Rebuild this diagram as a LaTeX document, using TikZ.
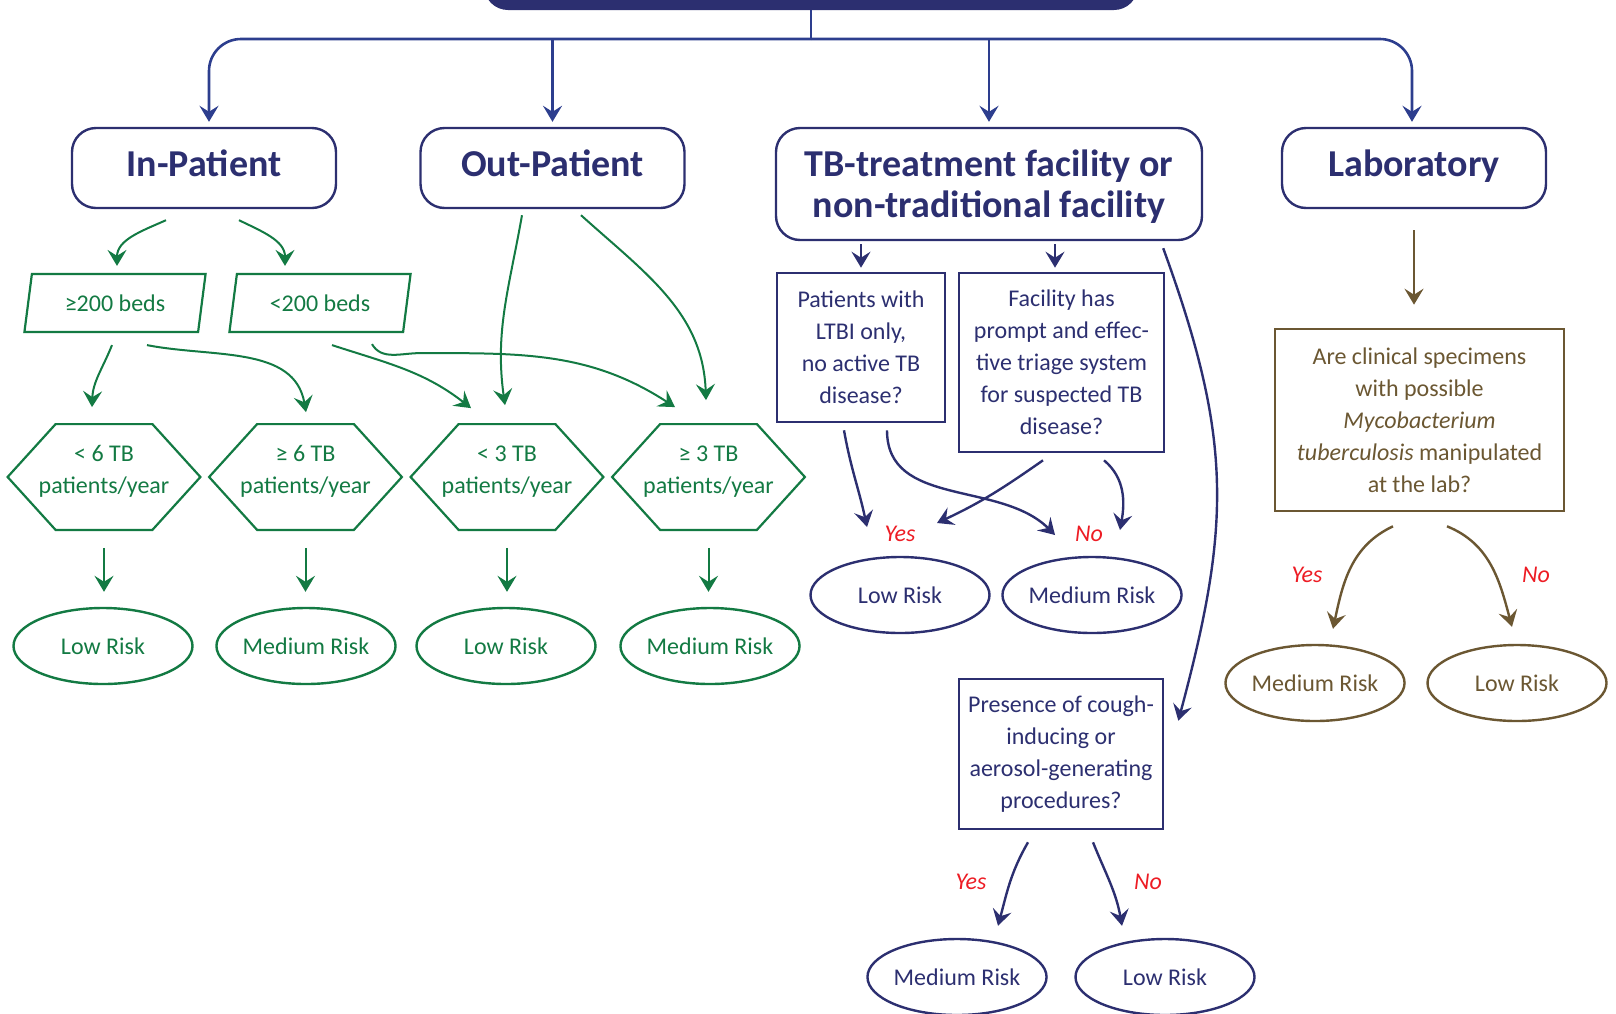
\documentclass[tikz,border=0pt]{standalone}
\usepackage{fontspec}
\setmainfont{Carlito}
\usetikzlibrary{arrows.meta,calc,shapes.geometric}
\definecolor{navy}{HTML}{2C2F70}
\definecolor{topblue}{HTML}{2D3E8E}
\definecolor{tbgreen}{HTML}{137A43}
\definecolor{labbrown}{HTML}{6B5732}
\definecolor{yesno}{HTML}{ED1C24}
\tikzset{
>={Stealth[length=8pt,width=9.5pt,inset=3pt]}, % barbed arrow heads
body/.style={font=\fontsize{12}{16}\selectfont, align=center, inner sep=0pt},
head/.style={draw=navy, text=navy, line width=1.2pt, rounded corners=12pt, font=\bfseries\fontsize{19}{20.5}\selectfont, align=center, inner sep=0pt, minimum width=132pt, minimum height=40pt}, % setting boxes
head1/.style={head, text height=13pt, text depth=4.8pt}, % one line only
beds/.style={body, draw, color=tbgreen, line width=1.1pt, trapezium, trapezium left angle=75, trapezium right angle=105, trapezium stretches=true, minimum width=91pt, minimum height=29pt},
hex/.style={body, text=tbgreen, text depth=7.5pt, minimum width=96pt, minimum height=52.5pt}, % outline drawn below
hexline/.style={draw=tbgreen, line width=1.1pt},
risk/.style={body, draw, ellipse, line width=1.2pt, minimum width=89.5pt, minimum height=38pt}, % end results
grisk/.style={risk, color=tbgreen},
nrisk/.style={risk, color=navy},
brisk/.style={risk, color=labbrown},
quest/.style={body, draw, line width=1.3pt}, % question boxes
reply/.style={text=yesno, font=\itshape\fontsize{12}{14}\selectfont, inner sep=0pt},
topline/.style={draw=topblue, line width=1.3pt},
gline/.style={->, draw=tbgreen, line width=1pt},
nline/.style={->, draw=navy, line width=1.2pt},
bline/.style={->, draw=labbrown, line width=1.2pt},
}
\begin{document}
\begin{tikzpicture}[x=0.5pt,y=-0.5pt]
\useasboundingbox (0,0) rectangle (1616,1013);

% settings
\node[fill=navy, rounded corners=12pt, minimum width=327pt, minimum height=40pt] (top) at (811,-30) {};
\node[head1] (inpat) at (204,168) {In-Patient};
\node[head1] (outpat) at (552.5,168) {Out-Patient};
\node[head, text depth=0.8pt, minimum width=213pt, minimum height=56pt] (tbfac) at (989,184) {TB-treatment facility or\\non-traditional facility};
\node[head1] (lab) at (1414,168) {Laboratory};

% in-patient and out-patient
\node[beds] (ge200) at (115,303) {≥200 beds};
\node[beds] (lt200) at (320,303) {<200 beds};
\node[hex] (h1) at (104,477) {< 6 TB\\patients/year};
\node[hex] (h2) at (305.5,477) {≥ 6 TB\\patients/year};
\node[hex] (h3) at (507,477) {< 3 TB\\patients/year};
\node[hex] (h4) at (708.5,477) {≥ 3 TB\\patients/year};
\foreach \i in {1,...,4}
  \draw[hexline] (h\i.west) -- ([xshift=24pt]h\i.north west) -- ([xshift=-24pt]h\i.north east)
    -- (h\i.east) -- ([xshift=-24pt]h\i.south east) -- ([xshift=24pt]h\i.south west) -- cycle;
\node[grisk] (r1) at (103,646) {Low Risk};
\node[grisk] (r2) at (306,646) {Medium Risk};
\node[grisk] (r3) at (506,646) {Low Risk};
\node[grisk] (r4) at (710,646) {Medium Risk};

% tb-treatment facility
\node[quest, color=navy, minimum width=84pt, minimum height=74.5pt] (ltbi) at (861,347.5) {Patients with\\LTBI only,\\no active TB\\disease?};
\node[quest, color=navy, minimum width=102.5pt, minimum height=89.5pt] (triage) at (1061.5,362.5) {Facility has\\prompt and effec-\\tive triage system\\for suspected TB\\disease?};
\node[reply] (y1) at (900,534) {Yes};
\node[reply] (n1) at (1089,534) {No};
\node[nrisk] (low1) at (900,595) {Low Risk};
\node[nrisk] (med1) at (1092,595) {Medium Risk};
\node[quest, color=navy, minimum width=102pt, minimum height=75pt] (cough) at (1061,754) {Presence of cough-\\inducing or\\aerosol-generating\\procedures?};
\node[reply] (y2) at (971,882) {Yes};
\node[reply] (n2) at (1148,882) {No};
\node[nrisk] (med2) at (957,977) {Medium Risk};
\node[nrisk] (low2) at (1165,977) {Low Risk};

% laboratory
\node[quest, color=labbrown, minimum width=144.5pt, minimum height=91pt] (spec) at (1419.5,420) {Are clinical specimens\\with possible\\\textit{Mycobacterium}\\\textit{tuberculosis} manipulated\\at the lab?};
\node[reply] (y3) at (1307,575) {Yes};
\node[reply] (n3) at (1536,575) {No};
\node[brisk] (med3) at (1315,683) {Medium Risk};
\node[brisk] (low3) at (1517,683) {Low Risk};

% top bar
\coordinate (bar) at (811,39);
\draw[topline] (top.south) -- (bar);
\draw[topline, ->, rounded corners=16pt, shorten >=2.5pt] (bar) -| ([xshift=2.5pt]inpat.north);
\draw[topline, ->, shorten >=2.5pt] (outpat.north |- bar) -- (outpat.north);
\draw[topline, ->, shorten >=2.5pt] (tbfac.north |- bar) -- (tbfac.north);
\draw[topline, ->, rounded corners=16pt, shorten >=2.5pt] (bar) -| ([xshift=-1pt]lab.north);

% green connectors
\draw[gline] ($(inpat.south)+(-38,11)$) to[out=204,in=90] ($(ge200.north)+(2,-7)$);
\draw[gline] ($(inpat.south)+(35,11)$) to[out=-26,in=90] ($(lt200.north)+(-35,-7)$);
\draw[gline] ($(ge200.south)+(-3,12)$) to[out=248,in=88] ($(h1.north)+(-12,-17)$);
\draw[gline] ($(ge200.south)+(32,12)$) to[out=-11,in=100] ($(h2.north)+(0.5,-12)$);
\draw[gline] ($(lt200.south)+(12,12)$) to[out=-18,in=142] ($(h3.north)+(-36,-16)$);
\draw[gline] ($(lt200.south)+(52,11)$) to[out=-60,in=180] ($(lt200.south)+(100,20)$) to[out=0,in=147] ($(h4.north)+(-33.5,-17)$);
\draw[gline] ($(outpat.south)+(-30.5,6)$) to[out=-100,in=98] ($(h3.north)+(-2,-19)$);
\draw[gline] ($(outpat.south)+(28.5,6)$) to[out=-42,in=92] ($(h4.north)+(-2.5,-24)$);
\foreach \i in {1,...,4}
  \draw[gline, shorten <=9pt, shorten >=7.5pt] (h\i.south) -- (h\i.south |- r\i.north);

% navy connectors
\draw[nline, shorten <=1.5pt, shorten >=2pt] (ltbi.north |- tbfac.south) -- (ltbi.north);
\draw[nline, shorten <=1.5pt, shorten >=2pt] ([xshift=-3.25pt]triage.north |- tbfac.south) -- ([xshift=-3.25pt]triage.north);
\draw[nline] ($(ltbi.south)+(-17,7)$) to[out=-80,in=102] ($(y1)+(-33,-7)$);
\draw[nline] ($(ltbi.south)+(26,7)$) to[out=-90,in=135] ($(n1)+(-34,1)$);
\draw[nline] ($(triage.south)+(-18.5,7)$) to[out=215,in=25] ($(y1)+(37,-11)$);
\draw[nline] ($(triage.south)+(42.5,7)$) to[out=-40,in=80] ($(n1)+(31,-4)$);
\draw[nline] ($(tbfac.south east)+(-40,7)$) to[out=-70,in=75,looseness=1.1] ($(cough.north east)+(14,43)$);
\draw[nline] ($(cough.south)+(-33,12)$) to[out=-120,in=75] ($(med2.north)+(41,-12)$);
\draw[nline] ($(cough.south)+(32,12)$) to[out=-68,in=100] ($(low2.north)+(-43,-12)$);

% brown connectors
\draw[bline, shorten <=10.5pt, shorten >=11.5pt] (lab.south) -- (lab.south |- spec.north);
\draw[bline] ($(spec.south)+(-26.5,14)$) to[out=205,in=78] ($(med3.north)+(18,-15)$);
\draw[bline] ($(spec.south)+(27.5,14)$) to[out=-22,in=105] ($(low3.north)+(-5,-17)$);
\end{tikzpicture}
\end{document}
